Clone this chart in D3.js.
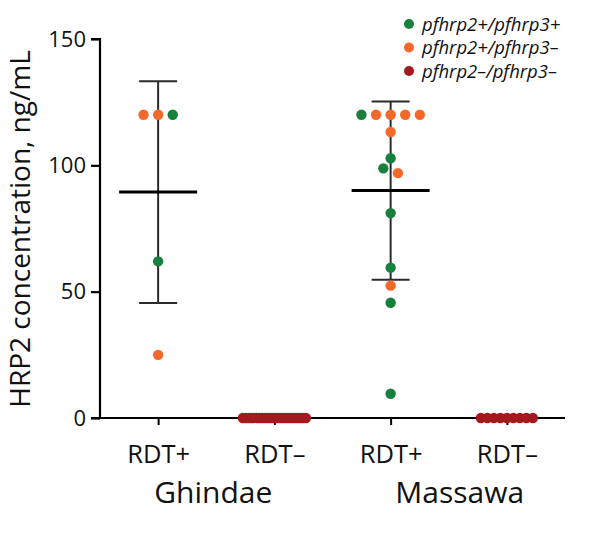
<!DOCTYPE html>
<html>
<head>
<meta charset="utf-8">
<script src="https://cdn.jsdelivr.net/npm/d3@7"></script>
<style>
  html, body { margin: 0; padding: 0; background: #fff; }
  svg { display: block; }
  text { font-family: "Open Sans", "Liberation Sans", sans-serif; fill: #111; }
</style>
</head>
<body>
<svg id="chart" width="600" height="535"></svg>
<script>
// ---- Data ----
const categories = ["G_RDT+", "G_RDT-", "M_RDT+", "M_RDT-"];
const tickLabels = ["RDT+", "RDT\u2013", "RDT+", "RDT\u2013"];
const sites = ["Ghindae", "Massawa"];
const yTicks = [0, 50, 100, 150];
const genotypes = ["pfhrp2+/pfhrp3+", "pfhrp2+/pfhrp3\u2013", "pfhrp2\u2013/pfhrp3\u2013"];
const genotypeColors = ["#17803c", "#f4692a", "#a3191f"];

// Ghindae RDT+ : values and genotype index (0 = +/+, 1 = +/-, 2 = -/-)
const ghindaePosValues   = [120, 120, 120, 62, 25];
const ghindaePosGenotype = [1, 1, 0, 0, 1];
// Ghindae RDT- : all zero, pfhrp2-/pfhrp3-
const ghindaeNegValues   = Array(24).fill(0);
const ghindaeNegGenotype = Array(24).fill(2);
// Massawa RDT+
const massawaPosValues   = [120, 120, 120, 120, 120, 113.2, 102.8, 98.8, 96.9, 81.1, 59.5, 52.4, 45.6, 9.6];
const massawaPosGenotype = [1, 1, 1, 0, 1, 1, 0, 0, 1, 0, 0, 1, 0, 0];
// Massawa RDT-
const massawaNegValues   = Array(9).fill(0);
const massawaNegGenotype = Array(9).fill(2);

const groups = [
  { cat: categories[0], values: ghindaePosValues, geno: ghindaePosGenotype, summary: true },
  { cat: categories[1], values: ghindaeNegValues, geno: ghindaeNegGenotype, summary: false },
  { cat: categories[2], values: massawaPosValues, geno: massawaPosGenotype, summary: true },
  { cat: categories[3], values: massawaNegValues, geno: massawaNegGenotype, summary: false }
];

(function draw() {
const svg = d3.select("#chart");
const pL = 100, pR = 565, pT = 39, pB = 418;
const x = d3.scalePoint().domain(categories).range([pL, pR]).padding(0.5);
const y = d3.scaleLinear().domain([0, 150]).range([pB, pT]);
const r = 5.2;

function layout(values) {
  const placed = [];
  const allZero = values.every(v => v === 0);
  if (allZero) {
    const n = values.length;
    const step = Math.min(6.5, 63 / (n - 1));
    return values.map((v, i) => ({ v, dx: (i - (n - 1) / 2) * step }));
  }
  const step = 7.3, minD = 11;
  values.forEach(v => {
    const py = y(v);
    for (let k = 0; k < 40; k++) {
      const cand = k === 0 ? 0 : (k % 2 ? -1 : 1) * Math.ceil(k / 2) * step;
      const ok = placed.every(p => Math.hypot(p.dx - cand, y(p.v) - py) >= minD);
      if (ok) { placed.push({ v, dx: cand }); break; }
    }
  });
  return placed;
}

const yAxis = d3.axisLeft(y).tickValues(yTicks).tickSize(9).tickPadding(5);
const gy = svg.append("g").attr("transform", `translate(${pL},0)`).call(yAxis);
gy.select(".domain").attr("stroke", "#000").attr("stroke-width", 2.2).attr("d", `M-9,${pT}H0V${pB}H-9`);
gy.selectAll(".tick line").attr("stroke", "#000").attr("stroke-width", 2.2);
gy.selectAll(".tick text").style("font-size", "22px").style("font-family", "'Open Sans', sans-serif").attr("fill", "#111");

const xAxis = d3.axisBottom(x).tickSize(7).tickFormat((d, i) => tickLabels[i]).tickPadding(20);
const gx = svg.append("g").attr("transform", `translate(0,${pB})`).call(xAxis);
gx.select(".domain").attr("stroke", "#000").attr("stroke-width", 2.2).attr("d", `M${pL},0H${pR}`);
gx.selectAll(".tick line").attr("stroke", "#000").attr("stroke-width", 2);
gx.selectAll(".tick text").style("font-size", "25.5px").style("font-family", "'Open Sans', sans-serif").attr("fill", "#111");

const siteX = [ (x(categories[0]) + x(categories[1])) / 2 - 3, (x(categories[2]) + x(categories[3])) / 2 + 11 ];
svg.selectAll(".site").data(sites).enter().append("text")
  .attr("x", (d, i) => siteX[i]).attr("y", 503)
  .attr("text-anchor", "middle").style("font-size", "30px").text(d => d);

svg.append("text")
  .attr("transform", `translate(30,${(32 + 426) / 2}) rotate(-90)`)
  .attr("text-anchor", "middle").style("font-size", "28px")
  .text("HRP2 concentration, ng/mL");

groups.filter(g => g.summary).forEach(g => {
  const m = d3.mean(g.values), sd = d3.deviation(g.values);
  const cx = x(g.cat);
  const gg = svg.append("g");
  gg.append("line").attr("x1", cx).attr("x2", cx).attr("y1", y(m + sd)).attr("y2", y(m - sd))
    .attr("stroke", "#2b2b2b").attr("stroke-width", 2);
  [m + sd, m - sd].forEach(v => gg.append("line").attr("x1", cx - 19).attr("x2", cx + 19)
    .attr("y1", y(v)).attr("y2", y(v)).attr("stroke", "#2b2b2b").attr("stroke-width", 2));
  gg.append("line").attr("x1", cx - 39).attr("x2", cx + 39).attr("y1", y(m)).attr("y2", y(m))
    .attr("stroke", "#000").attr("stroke-width", 3);
});

groups.forEach(g => {
  const pts = layout(g.values);
  svg.append("g").selectAll("circle").data(pts).enter().append("circle")
    .attr("cx", d => x(g.cat) + d.dx)
    .attr("cy", d => y(d.v))
    .attr("r", r)
    .attr("fill", (d, i) => genotypeColors[g.geno[i]]);
});

const lg = svg.append("g");
genotypes.forEach((t, i) => {
  const ly = 24 + i * 23.5;
  lg.append("circle").attr("cx", 409).attr("cy", ly).attr("r", 5).attr("fill", genotypeColors[i]);
  lg.append("text").attr("x", 422).attr("y", ly + 6.5).style("font-size", "18.5px")
    .style("font-style", "italic").text(t);
});
})();
</script>
</body>
</html>
